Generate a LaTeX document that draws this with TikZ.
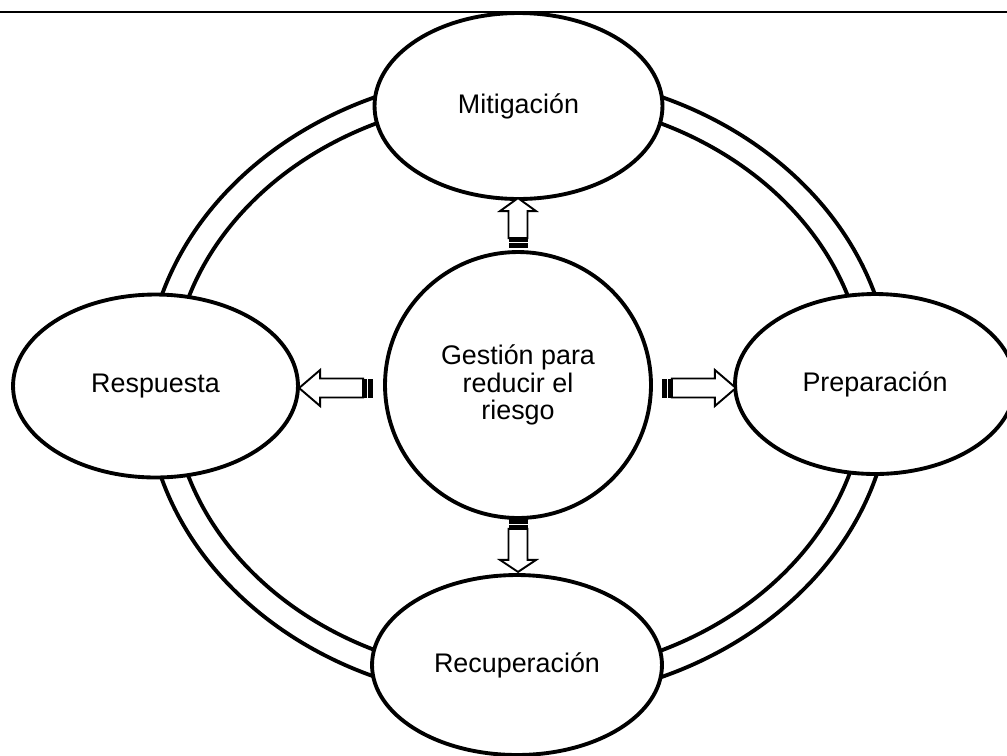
\documentclass[tikz,border=0pt]{standalone}
\usepackage{fontspec}
\setmainfont{Liberation Sans}
\usetikzlibrary{shapes.geometric}
\begin{document}
\begin{tikzpicture}[x=0.02cm,y=-0.02cm,
  bub/.style={ellipse, draw, line width=2.2pt, fill=white, inner sep=0pt,
    font=\fontsize{15.3}{15.6}\selectfont},
  ringl/.style={ellipse, draw, line width=2.2pt, inner sep=0pt},
  pics/barrow/.style 2 args={code={
    \fill (0,-9.5) rectangle (5,9.5);
    \fill (6.5,-9.5) rectangle (10,9.5);
    \draw[line width=1.1pt, fill=white, line join=miter]
      (10,-9.5) -- ({#1-#2},-9.5) -- ({#1-#2},-18) -- (#1,0)
      -- ({#1-#2},18) -- ({#1-#2},9.5) -- (10,9.5) -- cycle;
  }}]
\useasboundingbox (0,0) rectangle (1007,755);
\coordinate (tl) at (0,12);
\coordinate (tr) at (1007,12);
\draw[line width=1.2pt] (tl) -- (tr);
% ring
\node[ringl, minimum width=14.92cm, minimum height=12.56cm] (ringout) at (518.5,387) {};
\node[ringl, minimum width=13.88cm, minimum height=11.56cm] (ringin) at (518.5,387) {};
% stages
\node[bub, minimum width=5.76cm, minimum height=3.72cm] (mit) at (518.5,106) {Mitigación};
\node[bub, minimum width=5.70cm, minimum height=3.66cm] (resp) at (155.5,386) {Respuesta};
\node[bub, minimum width=5.60cm, minimum height=3.60cm] (prep) at (875,384) {Preparación};
\node[bub, minimum width=5.80cm, minimum height=3.60cm] (recu) at (517,665) {Recuperación};
\node[bub, circle, minimum size=5.32cm, align=center] (gest) at (518,385) {Gestión para\\reducir el\\riesgo};
% arrows
\pic[rotate=90] at ([yshift=0.04cm]gest.north) {barrow={50}{13}};
\pic[rotate=-90] at ([yshift=0.02cm]gest.south) {barrow={53}{12}};
\pic[rotate=180] at ([xshift=-0.2cm,yshift=-0.06cm]gest.west) {barrow={74}{21}};
\pic at ([xshift=0.18cm,yshift=-0.06cm]gest.east) {barrow={74}{21}};
\end{tikzpicture}
\end{document}
